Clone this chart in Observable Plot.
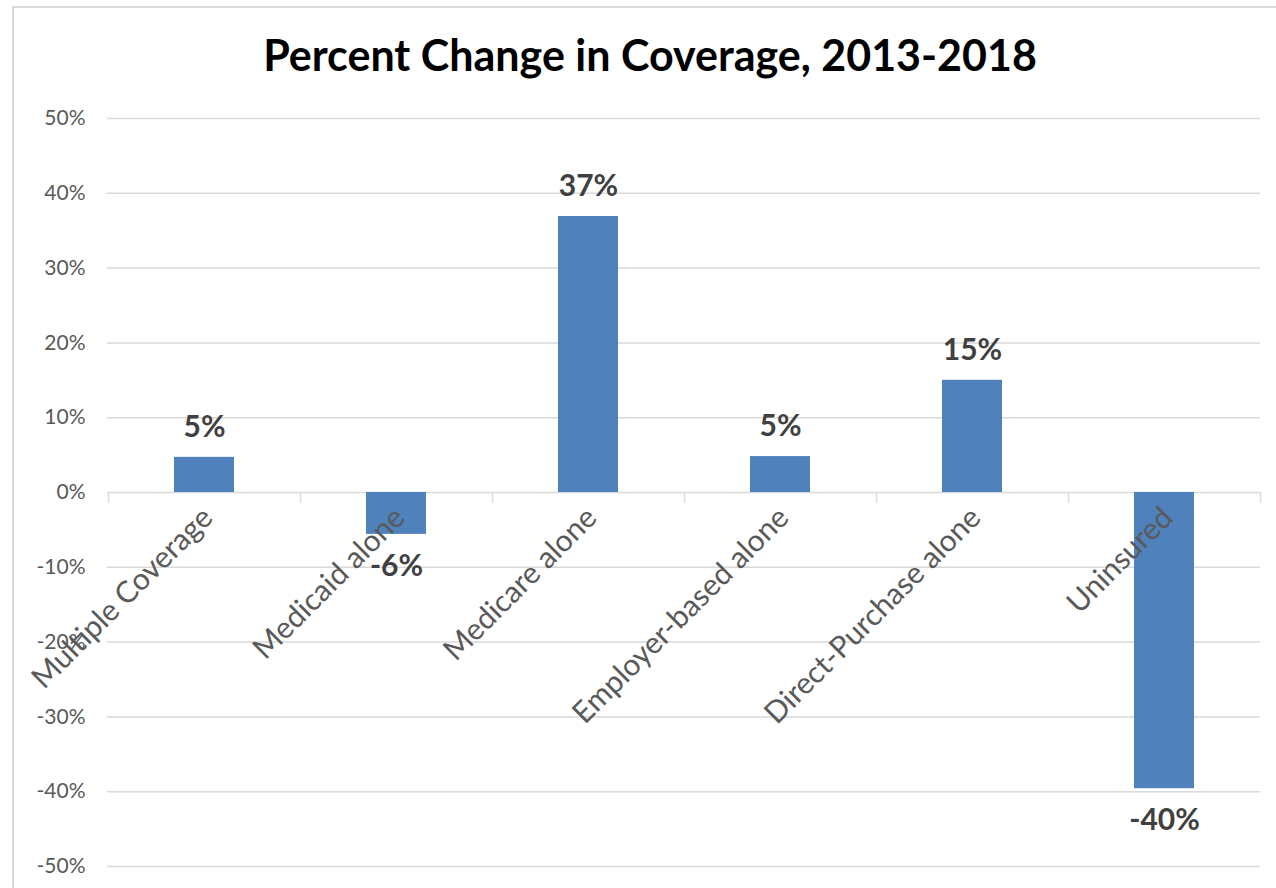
<!DOCTYPE html>
<html>
<head>
<meta charset="utf-8">
<script src="https://cdn.jsdelivr.net/npm/d3@7"></script>
<script src="https://cdn.jsdelivr.net/npm/@observablehq/plot@0.6"></script>
<style>
  html, body { margin: 0; padding: 0; background: #fff; }
  #wrap { position: relative; width: 1276px; height: 888px; overflow: hidden; font-family: Lato, sans-serif; }
  #frame { position: absolute; left: 12px; top: 6px; width: 1300px; height: 900px; border: 2px solid #d9d9d9; box-sizing: border-box; }
  #title { position: absolute; left: 0; top: 29px; width: 1300px; text-align: center; font-size: 43px; font-weight: 700; color: #000; line-height: 52px; white-space: nowrap; }
  #chart { position: absolute; left: 0; top: 90px; }
</style>
</head>
<body>
<div id="wrap">
  <div id="frame"></div>
  <div id="title">Percent Change in Coverage, 2013-2018</div>
  <div id="chart"></div>
</div>
<script>
const categories = ["Multiple Coverage", "Medicaid alone", "Medicare alone", "Employer-based alone", "Direct-Purchase alone", "Uninsured"];
const values = [4.7, -5.6, 36.9, 4.8, 15.0, -39.6];
const yTicks = [-50, -40, -30, -20, -10, 0, 10, 20, 30, 40, 50];

const data = categories.map((c, i) => ({category: c, value: values[i], label: Math.round(values[i]) + "%"}));
const pos = data.filter(d => d.value >= 0);
const neg = data.filter(d => d.value < 0);

const chart = Plot.plot({
  width: 1276,
  height: 798,
  marginTop: 28,
  marginBottom: 22,
  marginLeft: 107,
  marginRight: 16,
  style: {fontFamily: "Lato, sans-serif", background: "transparent"},
  x: {domain: categories, paddingInner: 0.6875, paddingOuter: 0.34375, axis: null},
  y: {domain: [-50, 50], ticks: yTicks, label: null, axis: null},
  marks: [
    Plot.ruleY(yTicks, {stroke: "#d9d9d9", strokeWidth: 1.5}),
    Plot.ruleX(categories, {x: d => d, y1: 0, y2: -1.4, dx: -96, stroke: "#d9d9d9", strokeWidth: 1.5}),
    Plot.ruleX(categories.slice(-1), {x: d => d, y1: 0, y2: -1.4, dx: 96, stroke: "#d9d9d9", strokeWidth: 1.5}),
    Plot.barY(data, {x: "category", y: "value", fill: "#4f81bd"}),
    Plot.axisY({ticks: yTicks, tickFormat: d => d + "%", tickSize: 0, tickPadding: 22, fontSize: 21, fill: "#595959", label: null}),
    Plot.text(categories, {x: d => d, y: 0, text: d => d, rotate: -45, textAnchor: "end", lineAnchor: "top", dx: -5, dy: 12, fontSize: 30, fill: "#595959"}),
    Plot.text(pos, {x: "category", y: "value", text: "label", lineAnchor: "middle", dy: -30, fontSize: 30, fontWeight: 700, fill: "#404040"}),
    Plot.text(neg, {x: "category", y: "value", text: "label", lineAnchor: "middle", dy: 32, fontSize: 30, fontWeight: 700, fill: "#404040"})
  ]
});
document.getElementById("chart").appendChild(chart);
</script>
</body>
</html>
